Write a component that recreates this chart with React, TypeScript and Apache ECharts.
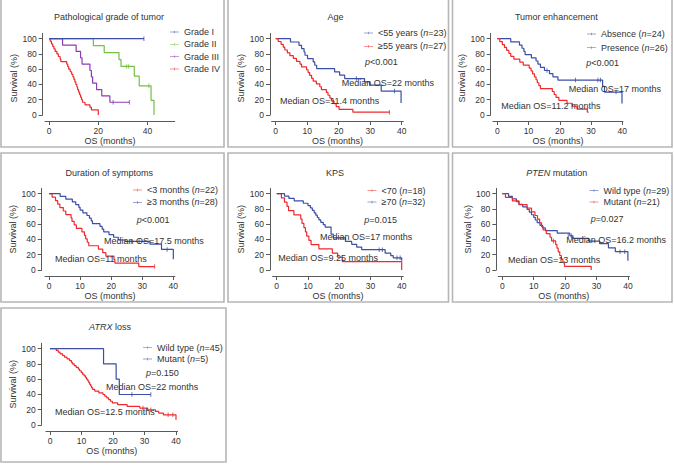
import React, { useEffect, useRef } from 'react';
import * as echarts from 'echarts';

const FONT = "'Liberation Sans', Arial, Helvetica, sans-serif";
const TICK_FONT = "'Liberation Sans Narrow', 'Liberation Sans', Arial, sans-serif";
const TXT = '#333333';
const AX = '#5a5a5a';
const BLUE = '#3c4ea5';
const RED = '#ee2a2e';
const GREEN = '#74bf44';
const PURPLE = '#8b3db6';

// ---------------- data: [months, survival %] ----------------
const gradeI = [[0, 100], [38.5, 100]];
const gradeICensor = [[38.5, 100]];
const gradeII = [[0, 100], [18, 90.9], [22.4, 81.8], [28.4, 72.7], [29.2, 63.6], [34.6, 50.9], [36.6, 38.2], [41.4, 19.1], [42.6, 0]];
const gradeIICensor = [[31.5, 63.6], [32.3, 63.6], [40.5, 38.2]];
const gradeIII = [[0, 100], [5.5, 91.7], [11, 83.3], [12.8, 75], [13.4, 66.7], [16.6, 58.3], [17.2, 50], [17.7, 41.7], [19.3, 33.3], [21.4, 25], [24.7, 16.7], [32.6, 16.7]];
const gradeIIICensor = [[26, 16.7], [32.6, 16.7]];
const gradeIV = [[0, 100], [0.5, 96.7], [1, 93.3], [1.5, 90], [2, 86.7], [2.5, 83.3], [3.2, 80], [3.8, 76.7], [4.5, 73.3], [4.8, 70], [7.2, 66.7], [7.6, 63.3], [8, 60], [8.6, 56.7], [9.2, 53.3], [9.7, 50], [10.1, 46.7], [10.5, 43.3], [10.9, 40], [11.3, 36.7], [11.6, 33.3], [12, 30], [12.4, 26.7], [12.8, 23.3], [13.2, 20], [13.6, 16.7], [14.6, 13.3], [16.6, 10], [17.2, 6.7], [20, 0]];
const gradeIVCensor: number[][] = [];

const ageYoung = [[0, 100], [4.7, 95.7], [7.4, 91.3], [8.2, 87], [9, 82.6], [9.3, 78.3], [10.1, 73.9], [11.9, 69.6], [12.4, 65.2], [13, 60.9], [18.7, 56.5], [20.3, 52.2], [21.9, 47.8], [28.2, 43.5], [29.8, 39.1], [33.5, 31.3], [39.8, 15.6]];
const ageYoungCensor = [[25.6, 47.8], [37.7, 31.3]];
const ageOld = [[0, 100], [0.8, 96.3], [1.7, 92.6], [2.4, 88.9], [2.9, 85.2], [3.7, 81.5], [4.5, 77.8], [5.6, 74.1], [6.6, 70.4], [7.7, 66.7], [8.2, 63], [9.8, 59.3], [10.3, 55.6], [10.8, 51.9], [11.4, 48.1], [11.9, 44.4], [12.9, 40.7], [14, 37], [14.5, 33.3], [16.1, 29.6], [16.6, 25.9], [17.2, 22.2], [17.7, 18.5], [18.5, 14.8], [19.2, 11.1], [20.1, 7.4], [24.5, 3.7], [36.1, 3.7]];
const ageOldCensor = [[36.1, 3.7]];

const enhAbsence = [[0, 100], [4.3, 95.8], [7.1, 91.7], [7.9, 87.5], [8.5, 83.3], [8.9, 79.2], [10.9, 75], [12.4, 70.8], [13, 66.7], [13.8, 62.5], [15.1, 58.3], [16.7, 54.2], [17.8, 50], [19.4, 45.8], [33.7, 37.5], [34.3, 30], [39.9, 15]];
const enhAbsenceCensor = [[15.9, 58.3], [25, 45.8], [32.2, 45.8], [33, 45.8], [38, 30]];
const enhPresence = [[0, 100], [0.8, 96.2], [1.6, 92.3], [2.3, 88.5], [3, 84.6], [3.7, 80.8], [4.3, 76.9], [5.3, 73.1], [7.2, 69.2], [8.3, 65.4], [10.2, 61.5], [10.8, 57.7], [11.3, 53.8], [11.9, 50], [12.4, 46.2], [12.8, 42.3], [13.3, 38.5], [13.8, 34.6], [17.6, 30.8], [18.2, 26.9], [18.8, 23.1], [19.7, 19.2], [22.3, 15.4], [24, 11.5], [25.5, 7.7], [28.8, 3.8], [29.2, 3.8]];
const enhPresenceCensor: number[][] = [];

const durShort = [[0, 100], [1, 95.5], [2.1, 90.9], [2.8, 86.4], [3.5, 81.8], [4.6, 77.3], [5.4, 72.7], [7.1, 68.2], [7.4, 63.6], [8.1, 59.1], [8.8, 54.5], [10.6, 50], [11.4, 45.5], [11.8, 40.9], [12.3, 36.4], [12.8, 31.8], [15.9, 27.3], [17.3, 22.7], [18.3, 18.2], [20.9, 13.6], [21.2, 9.1], [28.9, 4.5], [34, 4.5]];
const durShortCensor = [[34, 4.5]];
const durLong = [[0, 100], [3.6, 96.4], [5.4, 92.9], [7.5, 89.3], [8.6, 85.7], [9.6, 82.1], [10, 78.6], [10.9, 75], [12.2, 71.4], [13, 67.9], [13.6, 64.3], [14, 60.7], [16.4, 57.1], [17.1, 53.6], [17.6, 50], [19.3, 46.4], [20.8, 42.9], [22.3, 39.3], [24.5, 37.5], [32.5, 33.8], [36.2, 27], [40, 14]];
const durLongCensor = [[26.5, 37.5], [29, 37.5], [38, 27]];

const kpsLow = [[0, 100], [1.5, 94.4], [2.5, 88.9], [3.3, 83.3], [3.8, 77.8], [5.5, 72.2], [7.7, 66.7], [8.1, 61.1], [8.7, 55.6], [9.2, 50], [9.6, 44.4], [10.3, 38.9], [11, 33.3], [13.5, 27.8], [17.8, 22.2], [19.5, 16.7], [21, 11.1], [40, 0]];
const kpsLowCensor: number[][] = [];
const kpsHigh = [[0, 100], [2.5, 96.9], [3.9, 93.8], [5.6, 90.6], [8.5, 87.5], [10, 84.4], [10.8, 81.3], [11.4, 78.1], [12, 75], [12.5, 71.9], [13, 68.8], [13.5, 65.6], [14.1, 62.5], [14.9, 59.4], [15.5, 56.3], [17.4, 46.9], [18.1, 42.2], [22, 37.5], [24, 33.6], [25.6, 30.1], [27.2, 26.6], [34.7, 22.1], [36.5, 18.8], [37.3, 15.9], [40, 12]];
const kpsHighCensor = [[32.8, 26.6], [33.8, 26.6], [38.5, 15.9], [39.5, 15.9]];

const ptenWild = [[0, 100], [2, 96.6], [3.2, 93.1], [4.5, 89.7], [5.3, 86.2], [6.5, 82.8], [7.9, 79.3], [8.6, 75.9], [9.3, 72.4], [10, 69], [10.5, 65.5], [11.1, 62.1], [12, 58.6], [12.8, 55.2], [13.7, 51.7], [17.5, 48.3], [21.5, 44.8], [22.5, 41.4], [27.5, 37.9], [31, 34.5], [33.8, 29], [36, 24], [40, 12]];
const ptenWildCensor = [[21, 44.8], [22, 44.8], [37.5, 24], [39, 24]];
const ptenMut = [[0, 100], [1, 95.2], [3.2, 90.5], [5.3, 85.7], [7.9, 81], [9.3, 76.2], [10.4, 71.4], [11.2, 66.7], [11.9, 61.9], [12.5, 57.1], [13, 52.4], [14, 47.6], [15.2, 42.9], [15.7, 38.1], [17, 33.3], [17.4, 28.6], [17.8, 23.8], [18.3, 19], [18.8, 14.3], [19.3, 9.5], [19.8, 4.8], [28.3, 4.8], [28.3, 0]];
const ptenMutCensor = [[16.3, 38.1]];

const atrxWild = [[0, 100], [2, 97.8], [2.6, 95.6], [3.2, 93.3], [4, 91.1], [4.6, 88.9], [5.4, 86.7], [6.2, 84.4], [6.8, 82.2], [7.1, 80], [7.7, 77.8], [8.3, 75.6], [9, 73.3], [9.4, 71.1], [9.9, 68.9], [10.3, 66.7], [10.8, 64.4], [11.3, 62.2], [11.6, 60], [12, 57.8], [12.3, 55.6], [12.6, 53.3], [12.9, 51.1], [13.2, 48.9], [13.5, 46.7], [14.2, 44.4], [15.5, 42.2], [16.8, 40], [17.4, 37.8], [18, 35.6], [18.6, 33.3], [19.2, 31.1], [19.8, 28.9], [21.5, 26.7], [24.5, 24.4], [28.5, 22.2], [31, 20], [33.5, 17.8], [34.5, 15.6], [36, 13.3], [40, 7]];
const atrxWildCensor = [[29.5, 22.2], [32, 20], [37.5, 13.3], [39, 13.3]];
const atrxMut = [[0, 100], [17, 80], [21, 60], [22, 40], [32, 40]];
const atrxMutCensor = [[26, 40], [32, 40]];

// ---------------- layout (pixels) ----------------
const PPY = 0.763;
const YMAX = 107;
const Y_TICKS = [0, 20, 40, 60, 80, 100];
const X_TICKS = [0, 10, 20, 30, 40];

type S = { name: string; color: string; data: number[][]; censor: number[][]; z?: number };
type P = {
  box: number[]; title: string; tx: number; ty: number;
  x0: number; ppm: number; xmin: number; xmax: number; xticks: number[];
  y0: number; yAxisX: number; lx: number; ly: number; lgap: number; yNameShift: number;
  series: S[]; notes: { t: string; x: number; y: number }[];
};

const panels: P[] = [
  {
    box: [1, -1, 223, 148], title: 'Pathological grade of tumor', tx: 109, ty: 17,
    x0: 49, ppm: 2.465, xmin: -1.6, xmax: 51, xticks: [0, 20, 40], y0: 115, yAxisX: 42.7,
    lx: 170, ly: 26.5, lgap: 1.3, yNameShift: 8,
    series: [
      { name: 'Grade I', color: BLUE, data: gradeI, censor: gradeICensor, z: 5 },
      { name: 'Grade II', color: GREEN, data: gradeII, censor: gradeIICensor },
      { name: 'Grade III', color: PURPLE, data: gradeIII, censor: gradeIIICensor },
      { name: 'Grade IV', color: RED, data: gradeIV, censor: gradeIVCensor },
    ],
    notes: [],
  },
  {
    box: [228, -1, 220.5, 148], title: 'Age', tx: 335.5, ty: 17,
    x0: 275.7, ppm: 3.15, xmin: -1.3, xmax: 40.5, xticks: X_TICKS, y0: 115, yAxisX: 270,
    lx: 364, ly: 27.5, lgap: 2.3, yNameShift: 8,
    series: [
      { name: '<55 years (n=23)', color: BLUE, data: ageYoung, censor: ageYoungCensor },
      { name: '≥55 years (n=27)', color: RED, data: ageOld, censor: ageOldCensor },
    ],
    notes: [
      { t: '{i|p}<0.001', x: 365, y: 62.3 },
      { t: 'Median OS=22 months', x: 341.7, y: 83.3 },
      { t: 'Median OS=11.4 months', x: 280, y: 101 },
    ],
  },
  {
    box: [452.5, -1, 219.5, 148], title: 'Tumor enhancement', tx: 556.3, ty: 17,
    x0: 497.3, ppm: 3.125, xmin: -1.4, xmax: 40.2, xticks: X_TICKS, y0: 115, yAxisX: 490.7,
    lx: 587, ly: 28.5, lgap: 2.8, yNameShift: 8,
    series: [
      { name: 'Absence (n=24)', color: BLUE, data: enhAbsence, censor: enhAbsenceCensor },
      { name: 'Presence (n=26)', color: RED, data: enhPresence, censor: enhPresenceCensor },
    ],
    notes: [
      { t: '{i|p}<0.001', x: 586.3, y: 63.3 },
      { t: 'Median OS=17 months', x: 568.7, y: 89.3 },
      { t: 'Median OS=11.2 months', x: 501.3, y: 106 },
    ],
  },
  {
    box: [1, 153, 223, 149], title: 'Duration of symptoms', tx: 109.2, ty: 172.7,
    x0: 49, ppm: 3.108, xmin: -1.3, xmax: 40.5, xticks: X_TICKS, y0: 270, yAxisX: 41.7,
    lx: 133, ly: 184.5, lgap: 1.3, yNameShift: 0,
    series: [
      { name: '<3 months (n=22)', color: RED, data: durShort, censor: durShortCensor },
      { name: '≥3 months (n=28)', color: BLUE, data: durLong, censor: durLongCensor },
    ],
    notes: [
      { t: '{i|p}<0.001', x: 136.7, y: 220 },
      { t: 'Median OS=17.5 months', x: 104, y: 241 },
      { t: 'Median OS=11 months', x: 55, y: 259.3 },
    ],
  },
  {
    box: [228, 153, 220.5, 149], title: 'KPS', tx: 335, ty: 172.7,
    x0: 276.7, ppm: 3.125, xmin: -1.3, xmax: 40.5, xticks: X_TICKS, y0: 270, yAxisX: 270,
    lx: 367.5, ly: 185, lgap: 0.6, yNameShift: 0,
    series: [
      { name: '<70 (n=18)', color: RED, data: kpsLow, censor: kpsLowCensor },
      { name: '≥70 (n=32)', color: BLUE, data: kpsHigh, censor: kpsHighCensor },
    ],
    notes: [
      { t: '{i|p}=0.015', x: 364.3, y: 220 },
      { t: 'Median OS=17 months', x: 320, y: 237.3 },
      { t: 'Median OS=9.25 months', x: 278.3, y: 258.3 },
    ],
  },
  {
    box: [452.5, 153, 219.5, 149], title: '{i|PTEN} mutation', tx: 556.8, ty: 172.7,
    x0: 502.3, ppm: 3.14, xmin: -1.3, xmax: 40.5, xticks: X_TICKS, y0: 270, yAxisX: 496.3,
    lx: 589.5, ly: 185, lgap: 0.6, yNameShift: 0,
    series: [
      { name: 'Wild type (n=29)', color: BLUE, data: ptenWild, censor: ptenWildCensor },
      { name: 'Mutant (n=21)', color: RED, data: ptenMut, censor: ptenMutCensor },
    ],
    notes: [
      { t: '{i|p}=0.027', x: 590.7, y: 219 },
      { t: 'Median OS=16.2 months', x: 566.3, y: 240 },
      { t: 'Median OS=13 months', x: 508, y: 260 },
    ],
  },
  {
    box: [1, 308, 225, 154], title: '{i|ATRX} loss', tx: 110, ty: 326.7,
    x0: 50, ppm: 3.15, xmin: -1.3, xmax: 40.5, xticks: X_TICKS, y0: 425, yAxisX: 41.7,
    lx: 143, ly: 342, lgap: 0.6, yNameShift: 0,
    series: [
      { name: 'Wild type (n=45)', color: RED, data: atrxWild, censor: atrxWildCensor },
      { name: 'Mutant (n=5)', color: BLUE, data: atrxMut, censor: atrxMutCensor },
    ],
    notes: [
      { t: '{i|p}=0.150', x: 146, y: 372.7 },
      { t: 'Median OS=22 months', x: 106, y: 387 },
      { t: 'Median OS=12.5 months', x: 55, y: 412.3 },
    ],
  },
];

const ICON = 'path://M0,4.4H20V5.6H0Z M9.5,2H10.5V8H9.5Z';
const richI = (size: number) => ({ i: { fontStyle: 'italic', fontSize: size, fontFamily: FONT, fill: TXT, color: TXT } });

function buildOption() {
  const grid: any[] = [];
  const xAxis: any[] = [];
  const yAxis: any[] = [];
  const series: any[] = [];
  const legend: any[] = [];
  const graphic: any[] = [];

  panels.forEach((p, i) => {
    const left = p.x0 + p.xmin * p.ppm;
    const top = p.y0 - YMAX * PPY;
    grid.push({ left, top, width: (p.xmax - p.xmin) * p.ppm, height: YMAX * PPY, containLabel: false });
    xAxis.push({
      type: 'value', gridIndex: i, min: p.xmin, max: p.xmax, offset: 6,
      name: 'OS (months)', nameLocation: 'middle', nameGap: 15,
      nameTextStyle: { fontSize: 9, fontFamily: FONT, color: TXT },
      axisLine: { show: true, onZero: false, lineStyle: { color: AX, width: 1 } },
      axisTick: { show: true, length: 4, customValues: p.xticks, lineStyle: { color: AX } },
      axisLabel: { customValues: p.xticks, margin: 5, fontSize: 8.5, fontFamily: TICK_FONT, color: TXT },
      splitLine: { show: false },
    });
    yAxis.push({
      type: 'value', gridIndex: i, min: 0, max: YMAX, offset: left - p.yAxisX,
      name: 'Survival (%)', nameLocation: 'middle', nameGap: 22, nameRotate: 90,
      nameTextStyle: { fontSize: 9, fontFamily: FONT, color: TXT, padding: [0, p.yNameShift, 0, 0] },
      axisLine: { show: true, onZero: false, lineStyle: { color: AX, width: 1 } },
      axisTick: { show: true, length: 4, customValues: Y_TICKS, lineStyle: { color: AX } },
      axisLabel: { customValues: Y_TICKS, margin: 6, fontSize: 8.5, fontFamily: TICK_FONT, color: TXT },
      splitLine: { show: false },
    });
    p.series.forEach((s) => {
      series.push({
        type: 'line', name: s.name, xAxisIndex: i, yAxisIndex: i, step: 'end',
        data: s.data, showSymbol: false, symbol: 'none', z: s.z || 2, clip: false,
        color: s.color, lineStyle: { color: s.color, width: 1.2 }, itemStyle: { color: s.color },
      });
      if (s.censor.length) {
        series.push({
          type: 'scatter', name: s.name + ' censored', xAxisIndex: i, yAxisIndex: i,
          data: s.censor, symbol: 'rect', symbolSize: [1, 4.5], silent: true, z: (s.z || 2) + 1,
          itemStyle: { color: s.color },
        });
      }
    });
    legend.push({
      data: p.series.map((s) => ({ name: s.name, icon: ICON, itemStyle: { color: s.color, borderWidth: 0 } })),
      left: p.lx, top: p.ly, orient: 'vertical', itemWidth: 9, itemHeight: 6, itemGap: p.lgap,
      selectedMode: false, padding: 0,
      formatter: (name: string) => name.replace('(n=', '({i|n}='),
      textStyle: { fontSize: 9, fontFamily: FONT, color: TXT, lineHeight: 11, rich: richI(9) },
    });
    graphic.push({
      type: 'rect', shape: { x: p.box[0], y: p.box[1], width: p.box[2], height: p.box[3] },
      style: { fill: 'none', stroke: '#b6b6b6', lineWidth: 1.6 }, silent: true,
    });
    graphic.push({
      type: 'text', x: p.tx, y: p.ty, silent: true,
      style: { text: p.title, fontSize: 9, fontFamily: FONT, fill: TXT, align: 'center', verticalAlign: 'middle', rich: richI(9) },
    });
    p.notes.forEach((n) => {
      graphic.push({
        type: 'text', x: n.x, y: n.y, silent: true, z: 10,
        style: { text: n.t, fontSize: 9, fontFamily: FONT, fill: TXT, align: 'left', verticalAlign: 'middle', rich: richI(9) },
      });
    });
  });

  return { animation: false, backgroundColor: '#ffffff', grid, xAxis, yAxis, series, legend, graphic };
}

export default function App() {
  const ref = useRef<HTMLDivElement>(null);
  useEffect(() => {
    document.body.style.margin = '0';
    if (!ref.current) return;
    const chart = echarts.init(ref.current, undefined, { renderer: 'svg' });
    chart.setOption(buildOption() as any);
    return () => chart.dispose();
  }, []);
  return <div ref={ref} style={{ width: 674, height: 467 }} />;
}
